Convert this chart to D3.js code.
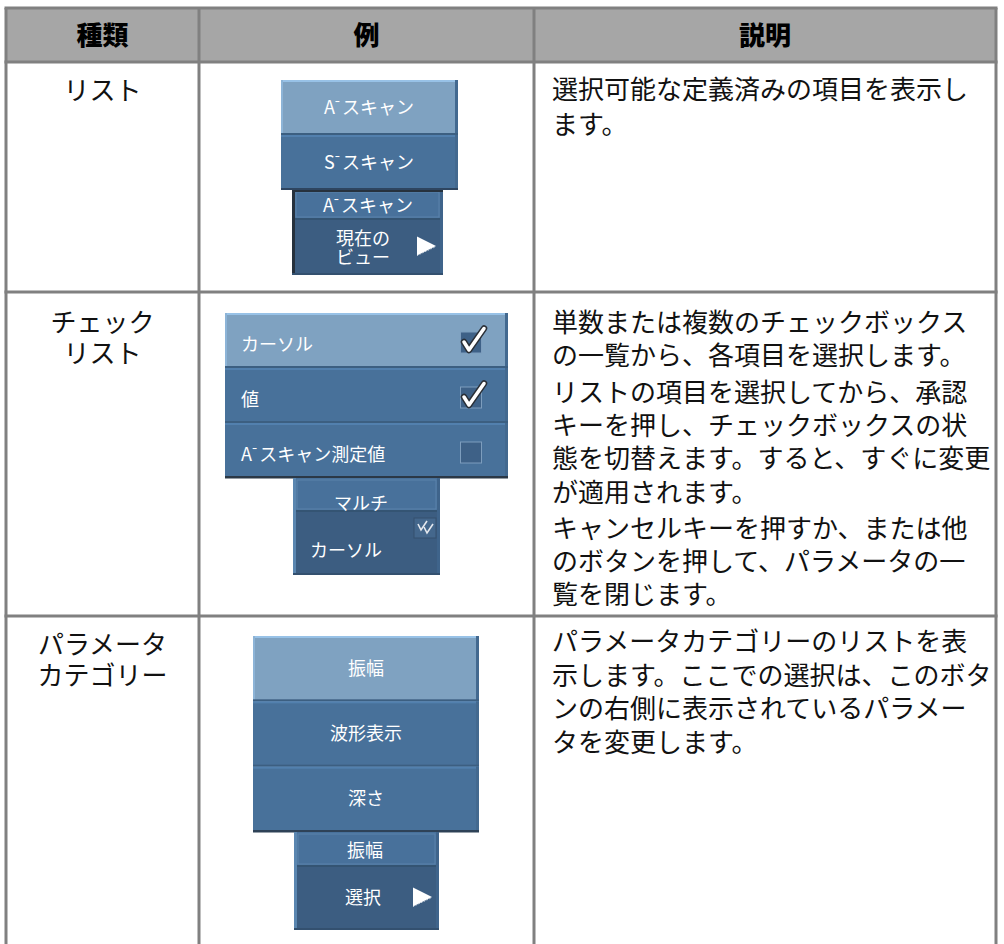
<!DOCTYPE html>
<html><head><meta charset="utf-8">
<script src="https://cdn.jsdelivr.net/npm/d3@7"></script>
<style>body{margin:0;background:#fff}</style>
</head><body><svg id="c" width="1004" height="944"></svg>
<script>
// ---------- data ----------
const headers = ["種類", "例", "説明"];
const types = [["リスト"], ["チェック", "リスト"], ["パラメータ", "カテゴリー"]];
const descriptions = [
  [["選択可能な定義済みの項目を表示し", "ます。"]],
  [["単数または複数のチェックボックス", "の一覧から、各項目を選択します。"],
   ["リストの項目を選択してから、承認", "キーを押し、チェックボックスの状", "態を切替えます。すると、すぐに変更", "が適用されます。"],
   ["キャンセルキーを押すか、または他", "のボタンを押して、パラメータの一", "覧を閉じます。"]],
  [["パラメータカテゴリーのリストを表", "示します。ここでの選択は、このボタ", "ンの右側に表示されているパラメー", "タを変更します。"]]
];
const listItems = ["A-スキャン", "S-スキャン"];
const listSubmenu = ["A-スキャン", "現在の|ビュー"];
const checkItems = ["カーソル", "値", "A-スキャン測定値"];
const checkStates = [true, true, false];
const checkSubmenu = ["マルチ", "カーソル"];
const paramItems = ["振幅", "波形表示", "深さ"];
const paramSubmenu = ["振幅", "選択"];

// ---------- layout ----------
const FONT = "'Noto Sans CJK JP','Noto Sans CJK SC',sans-serif";
const svg = d3.select("#c");
const colX = d3.scaleOrdinal().domain([0, 1, 2, 3]).range([6, 199, 534, 996]);
const rowY = d3.scaleOrdinal().domain([0, 1, 2, 3, 4]).range([8, 62, 292, 616, 944]);
const C = { light: "#7fa2c1", mid: "#48719a", subTop: "#48719b", subLow: "#3c5d81", grid: "#808080", head: "#a6a6a6" };

// header band
svg.append("rect").attr("x", colX(0)).attr("y", rowY(0)).attr("width", colX(3) - colX(0)).attr("height", rowY(1) - rowY(0)).attr("fill", C.head);

// header labels
svg.selectAll("text.hdr").data(headers).join("text").attr("class", "hdr")
  .attr("x", (d, i) => (colX(i) + colX(i + 1)) / 2).attr("y", 45)
  .attr("text-anchor", "middle").attr("font-family", FONT).attr("font-weight", 900)
  .attr("font-size", 26).attr("fill", "#000").text(d => d);

// type column
const typeCenters = [90, 322, 644];
types.forEach((lines, r) => {
  svg.selectAll(null).data(lines).join("text")
    .attr("x", (colX(0) + colX(1)) / 2).attr("y", (d, i) => typeCenters[r] + 10 + i * 31)
    .attr("text-anchor", "middle").attr("font-family", FONT).attr("font-size", 26).attr("fill", "#111").text(d => d);
});

// description column
const descStart = [89, 322, 641];
const descLH = [35, 33.3, 33.5];
descriptions.forEach((paras, r) => {
  let y = descStart[r];
  const flat = [];
  paras.forEach((p) => { p.forEach(l => { flat.push({ t: l, y }); y += descLH[r]; }); y += 3; });
  svg.selectAll(null).data(flat).join("text")
    .attr("x", 552).attr("y", d => d.y + 10)
    .attr("font-family", FONT).attr("font-size", 26).attr("fill", "#111").text(d => d.t);
});

// grid lines
[0, 1, 2, 3].forEach(i => svg.append("line").attr("x1", colX(0) - 1.5).attr("x2", colX(3) + 1.5).attr("y1", rowY(i)).attr("y2", rowY(i)).attr("stroke", C.grid).attr("stroke-width", 3));
[0, 1, 2, 3].forEach(i => svg.append("line").attr("x1", colX(i)).attr("x2", colX(i)).attr("y1", rowY(0)).attr("y2", rowY(4)).attr("stroke", C.grid).attr("stroke-width", 3));

// ---------- mockup helpers ----------
function label(g, txt, x, y, anchor, size) {
  size = size || 18;
  const t = g.append("text").attr("x", x).attr("y", y).attr("text-anchor", anchor)
    .attr("font-family", FONT).attr("font-size", size).attr("fill", "#fff");
  if (txt.includes("-")) {
    const [a, b] = txt.split("-");
    t.append("tspan").text(a);
    t.append("tspan").attr("dy", -8).attr("font-size", 15).text("-");
    t.append("tspan").attr("dy", 8).attr("dx", 2).text(b);
  } else t.text(txt);
  return t;
}
function button(g, x, y, w, h, fill, first) {
  const c = d3.color(fill);
  g.append("rect").attr("x", x).attr("y", y).attr("width", w).attr("height", h).attr("fill", fill);
  g.append("rect").attr("x", x).attr("y", y).attr("width", w).attr("height", 2).attr("fill", c.brighter(first ? 0.5 : 0.35));
  if (first) g.append("rect").attr("x", x).attr("y", y).attr("width", 2).attr("height", h).attr("fill", c.brighter(0.3));
  g.append("rect").attr("x", x + w - 3).attr("y", y).attr("width", 3).attr("height", h).attr("fill", d3.color(C.mid).darker(0.2));
  g.append("rect").attr("x", x).attr("y", y + h - 2).attr("width", w).attr("height", 2).attr("fill", d3.color(C.mid).darker(0.5));
}
function arrow(g, x, yc, s) {
  g.append("path").attr("d", d3.line()([[x, yc - s / 2], [x + s, yc], [x, yc + s / 2]]) + "Z").attr("fill", "#fff");
  g.append("line").attr("x1", x).attr("x2", x + s).attr("y1", yc + s / 2).attr("y2", yc + 0.5)
    .attr("stroke", "#cfd8e2").attr("stroke-width", 1).attr("stroke-dasharray", "1.5,1.5");
}
function check(g, bx, by, s) {
  const pts = [[bx + 4, by + s * 0.5], [bx + 9, by + s * 0.88], [bx + s + 3, by - 3]];
  g.append("path").attr("d", d3.line()(pts)).attr("fill", "none").attr("stroke", "#2a2f36").attr("stroke-width", 6.5).attr("stroke-linecap", "round").attr("stroke-linejoin", "round");
  g.append("path").attr("d", d3.line()(pts)).attr("fill", "none").attr("stroke", "#fff").attr("stroke-width", 3.5).attr("stroke-linecap", "round").attr("stroke-linejoin", "round");
}
function submenu(g, x0, x1, y0, yBand, y1, leftColor) {
  g.append("rect").attr("x", x0).attr("y", y0).attr("width", x1 - x0).attr("height", y1 - y0).attr("fill", C.subLow);
  g.append("rect").attr("x", x0).attr("y", y0).attr("width", x1 - x0).attr("height", yBand - y0).attr("fill", C.subTop);
  g.append("rect").attr("x", x0 + 4).attr("y", y0 + 2).attr("width", x1 - x0 - 8).attr("height", yBand - y0 - 3)
    .attr("fill", "none").attr("stroke", "#5b83ab").attr("stroke-width", 1);
  g.append("rect").attr("x", x0).attr("y", yBand).attr("width", x1 - x0).attr("height", 2).attr("fill", "#345473");
  g.append("rect").attr("x", x0).attr("y", y0).attr("width", 3).attr("height", y1 - y0).attr("fill", leftColor);
  g.append("rect").attr("x", x1 - 3).attr("y", y0).attr("width", 3).attr("height", y1 - y0).attr("fill", "#3f648b");
  g.append("rect").attr("x", x0).attr("y", y1 - 2).attr("width", x1 - x0).attr("height", 2).attr("fill", "#33506f");
}

// ---------- row 1 : list ----------
{
  const g = svg.append("g");
  const y = d3.scaleBand().domain(d3.range(listItems.length)).range([80, 190]);
  listItems.forEach((d, i) => {
    button(g, 281, y(i), 458 - 281, y.bandwidth(), i === 0 ? C.light : C.mid, i === 0);
    label(g, d, 369, y(i) + y.bandwidth() / 2 + 6, "middle");
  });
  g.append("rect").attr("x", 281).attr("y", 188).attr("width", 177).attr("height", 2).attr("fill", "#2e4560");
  submenu(g, 292, 443, 190, 218, 275, "#26313d");
  g.append("rect").attr("x", 292).attr("y", 190).attr("width", 151).attr("height", 2).attr("fill", "#26313d");
  label(g, listSubmenu[0], 368, 212, "middle");
  const sub = listSubmenu[1].split("|");
  sub.forEach((s, i) => label(g, s, 363, 245 + i * 19, "middle"));
  arrow(g, 417, 246, 19);
}

// ---------- row 2 : check list ----------
{
  const g = svg.append("g");
  const y = d3.scaleBand().domain(d3.range(checkItems.length)).range([313, 478]);
  checkItems.forEach((d, i) => {
    button(g, 225, y(i), 508 - 225, y.bandwidth(), i === 0 ? C.light : C.mid, i === 0);
    label(g, d, 241, y(i) + y.bandwidth() / 2 + 10, "start");
    const by = y(i) + y.bandwidth() / 2 - 9;
    g.append("rect").attr("x", 460.5).attr("y", by + 0.5).attr("width", 21).attr("height", 21)
      .attr("fill", "#3e6187").attr("stroke", "#7d9dbd").attr("stroke-width", 1);
    if (checkStates[i]) check(g, 460, by, 21);
  });
  g.append("rect").attr("x", 225).attr("y", 476).attr("width", 283).attr("height", 2.5).attr("fill", "#2b3846");
  submenu(g, 293, 440, 478, 510, 575, "#5a86b0");
  label(g, checkSubmenu[0], 361, 510, "middle");
  label(g, checkSubmenu[1], 310, 557, "start");
  g.append("rect").attr("x", 414).attr("y", 518).attr("width", 22).attr("height", 20).attr("fill", "#44678c").attr("stroke", "#34506e");
  [[418, 524], [424, 527]].forEach(([cx, cy]) => {
    g.append("path").attr("d", d3.line()([[cx, cy], [cx + 3, cy + 6], [cx + 9, cy - 3]]))
      .attr("fill", "none").attr("stroke", "#e4e8ee").attr("stroke-width", 1.6);
  });
}

// ---------- row 3 : parameter categories ----------
{
  const g = svg.append("g");
  const y = d3.scaleBand().domain(d3.range(paramItems.length)).range([636, 832]);
  paramItems.forEach((d, i) => {
    button(g, 253, y(i), 479 - 253, y.bandwidth(), i === 0 ? C.light : C.mid, i === 0);
    label(g, d, 366, y(i) + y.bandwidth() / 2 + 6, "middle");
  });
  g.append("rect").attr("x", 253).attr("y", 830).attr("width", 226).attr("height", 2.5).attr("fill", "#2e4257");
  submenu(g, 294, 439, 832, 865, 930, "#5a86b0");
  label(g, paramSubmenu[0], 365, 857, "middle");
  label(g, paramSubmenu[1], 363, 904, "middle");
  arrow(g, 413, 897, 19);
}
</script></body></html>
